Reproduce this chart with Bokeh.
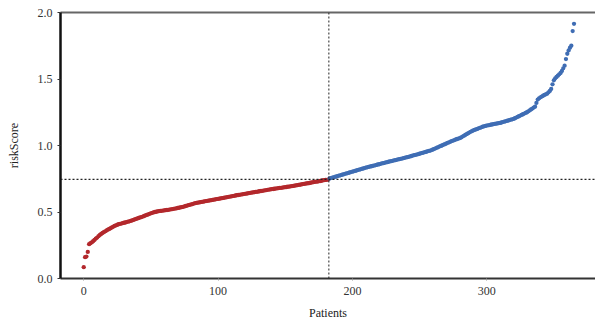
from bokeh.plotting import figure
from bokeh.models import ColumnDataSource, Span, LinearAxis, FixedTicker, NumeralTickFormatter, Range1d
from bokeh.embed import file_html
from bokeh.resources import INLINE

# Sorted risk scores
low_risk = [
    0.085, 0.160, 0.165, 0.200, 0.258, 0.265, 0.272, 0.280, 0.290, 0.300,
    0.308, 0.318, 0.328, 0.335, 0.342, 0.349, 0.355, 0.361, 0.367, 0.373,
    0.378, 0.384, 0.390, 0.395, 0.400, 0.404, 0.408, 0.411, 0.413, 0.416,
    0.419, 0.421, 0.424, 0.427, 0.430, 0.433, 0.437, 0.440, 0.444, 0.448,
    0.452, 0.455, 0.459, 0.462, 0.466, 0.470, 0.474, 0.478, 0.482, 0.486,
    0.490, 0.494, 0.497, 0.500, 0.502, 0.504, 0.506, 0.508, 0.509, 0.511,
    0.512, 0.514, 0.515, 0.516, 0.518, 0.520, 0.522, 0.524, 0.526, 0.528,
    0.530, 0.532, 0.534, 0.536, 0.539, 0.542, 0.545, 0.548, 0.551, 0.554,
    0.557, 0.560, 0.563, 0.566, 0.568, 0.570, 0.572, 0.574, 0.576, 0.578,
    0.580, 0.582, 0.584, 0.585, 0.587, 0.589, 0.591, 0.593, 0.595, 0.597,
    0.598, 0.600, 0.602, 0.604, 0.606, 0.608, 0.610, 0.612, 0.614, 0.616,
    0.618, 0.620, 0.622, 0.624, 0.626, 0.628, 0.629, 0.631, 0.633, 0.635,
    0.637, 0.638, 0.640, 0.642, 0.644, 0.645, 0.647, 0.649, 0.651, 0.652,
    0.654, 0.656, 0.658, 0.659, 0.661, 0.663, 0.665, 0.667, 0.669, 0.670,
    0.672, 0.673, 0.675, 0.676, 0.678, 0.679, 0.681, 0.682, 0.684, 0.685,
    0.687, 0.688, 0.690, 0.691, 0.693, 0.694, 0.696, 0.698, 0.700, 0.702,
    0.704, 0.705, 0.707, 0.709, 0.711, 0.713, 0.715, 0.716, 0.718, 0.720,
    0.722, 0.724, 0.726, 0.728, 0.729, 0.731, 0.733, 0.735, 0.737, 0.739,
    0.741, 0.742, 0.744,
]
high_risk = [
    0.752, 0.755, 0.758, 0.761, 0.764, 0.767, 0.770,
    0.773, 0.776, 0.779, 0.782, 0.785, 0.788, 0.791, 0.794, 0.797, 0.800,
    0.803, 0.806, 0.809, 0.812, 0.815, 0.818, 0.821, 0.824, 0.827, 0.830,
    0.833, 0.836, 0.839, 0.841, 0.844, 0.846, 0.849, 0.851, 0.854, 0.857,
    0.859, 0.862, 0.865, 0.867, 0.870, 0.873, 0.875, 0.878, 0.880, 0.883,
    0.885, 0.888, 0.890, 0.892, 0.895, 0.897, 0.900, 0.902, 0.905, 0.907,
    0.910, 0.912, 0.915, 0.918, 0.921, 0.924, 0.927, 0.930, 0.932, 0.935,
    0.938, 0.941, 0.944, 0.947, 0.950, 0.953, 0.956, 0.959, 0.962, 0.966,
    0.970, 0.975, 0.979, 0.984, 0.988, 0.993, 0.997, 1.002, 1.006, 1.011,
    1.015, 1.020, 1.024, 1.029, 1.033, 1.037, 1.041, 1.045, 1.049, 1.052,
    1.055, 1.061, 1.067, 1.073, 1.079, 1.085, 1.091, 1.097, 1.103, 1.108,
    1.113, 1.117, 1.121, 1.125, 1.129, 1.133, 1.137, 1.141, 1.144, 1.147,
    1.150, 1.152, 1.154, 1.156, 1.158, 1.160, 1.162, 1.164, 1.166, 1.168,
    1.170, 1.173, 1.176, 1.179, 1.182, 1.185, 1.188, 1.191, 1.194, 1.197,
    1.200, 1.205, 1.210, 1.215, 1.220, 1.225, 1.230, 1.235, 1.240, 1.245,
    1.250, 1.257, 1.264, 1.271, 1.278, 1.285, 1.292, 1.320, 1.345, 1.355,
    1.362, 1.368, 1.374, 1.380, 1.385, 1.390, 1.400, 1.410, 1.425, 1.460,
    1.490, 1.505, 1.515, 1.525, 1.535, 1.545, 1.560, 1.580, 1.600, 1.650,
    1.690, 1.715, 1.735, 1.750, 1.860, 1.915,
]
cutoff_value = 0.745
cutoff_patient = 182.5
x_ticks = [0, 100, 200, 300]
y_ticks = [0.0, 0.5, 1.0, 1.5, 2.0]

low_x = list(range(len(low_risk)))
high_x = list(range(len(low_risk), len(low_risk) + len(high_risk)))

FONT = "Liberation Serif"

p = figure(width=595, height=326, output_backend="svg", toolbar_location=None,
           x_range=Range1d(-17.3, 381), y_range=Range1d(0, 2.0),
           min_border_left=60, min_border_right=0, min_border_top=12, min_border_bottom=48,
           x_axis_label="Patients", y_axis_label="riskScore")
p.outline_line_color = None
p.grid.visible = False
p.background_fill_color = "white"

p.scatter(low_x, low_risk, size=4.3, color="#B3282C", line_color=None)
p.scatter(high_x, high_risk, size=4.3, color="#3F6DB4", line_color=None)

p.add_layout(Span(location=cutoff_value, dimension="width", line_color="#222222",
                  line_width=1.3, line_dash="2 2"))
p.add_layout(Span(location=cutoff_patient, dimension="height", line_color="#222222",
                  line_width=1, line_dash="2 2"))

for ax in p.axis:
    ax.major_label_text_font = FONT
    ax.major_label_text_font_size = "12px"
    ax.major_label_text_color = "#333333"
    ax.axis_label_text_font = FONT
    ax.axis_label_text_font_size = "12px"
    ax.axis_label_text_font_style = "normal"
    ax.axis_label_text_color = "#222222"
    ax.minor_tick_line_color = None

p.xaxis.ticker = FixedTicker(ticks=x_ticks)
p.xaxis.axis_line_color = "#333333"
p.xaxis.axis_line_width = 2
p.xaxis.major_tick_line_color = "#999999"
p.xaxis.major_tick_in = 0
p.xaxis.major_tick_out = 2
p.xaxis.major_label_standoff = 6
p.xaxis.axis_label_standoff = 8

p.yaxis.ticker = FixedTicker(ticks=y_ticks)
p.yaxis.formatter = NumeralTickFormatter(format="0.0")
p.yaxis.axis_line_color = "#111111"
p.yaxis.axis_line_width = 2.5
p.yaxis.major_tick_line_color = "#333333"
p.yaxis.major_tick_in = 0
p.yaxis.major_tick_out = 3
p.yaxis.major_label_standoff = 5
p.yaxis.axis_label_standoff = 14

top = LinearAxis(ticker=FixedTicker(ticks=[]), major_label_text_font_size="0px",
                 axis_line_color="#666666", axis_line_width=2,
                 major_tick_line_color=None, minor_tick_line_color=None)
p.add_layout(top, "above")

open("out.html", "w").write(file_html(p, INLINE))
